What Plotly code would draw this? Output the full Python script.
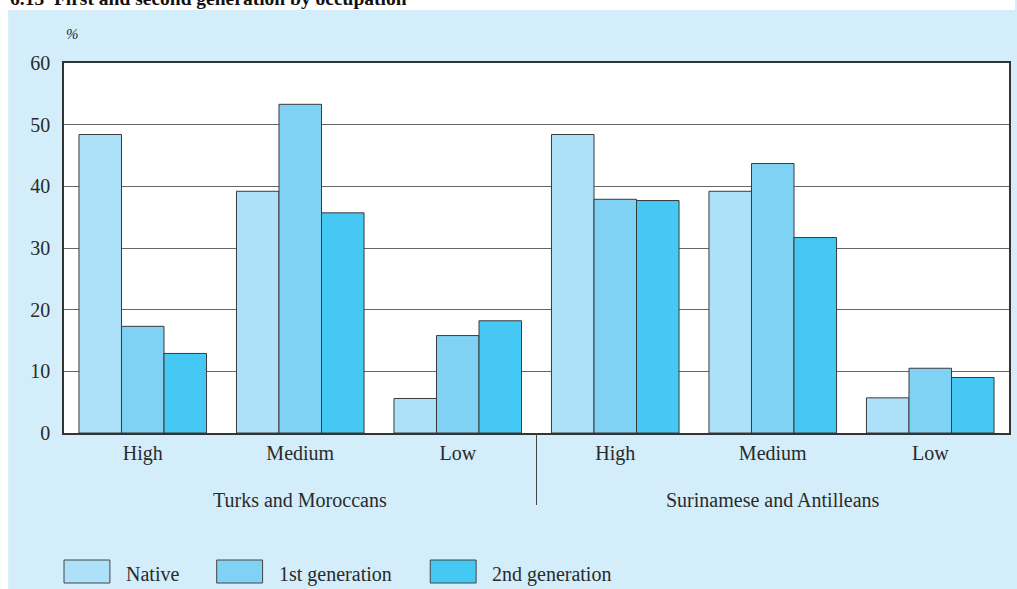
import plotly.graph_objects as go

groups = ["Turks and Moroccans", "Surinamese and Antilleans"]
occupations = ["High", "Medium", "Low", "High", "Medium", "Low"]
native = [48.4, 39.2, 5.6, 48.4, 39.2, 5.7]
first_gen = [17.3, 53.3, 15.8, 37.9, 43.7, 10.5]
second_gen = [12.9, 35.7, 18.2, 37.7, 31.7, 9.0]
series_names = ["Native", "1st generation", "2nd generation"]
series_colors = ["#ade1f9", "#80d2f5", "#45c8f4"]
y_ticks = [0, 10, 20, 30, 40, 50, 60]
positions = list(range(len(occupations)))

W, H = 1017, 589
L, R, T, B = 64, 6, 63, 156
pw, ph = W - L - R, H - T - B

def px(x):
    return (x - L) / pw

def py(y):
    return (H - B - y) / ph

FONT = "Liberation Serif"
TXT = "#2a2a2a"
fig = go.Figure()
for name, vals, col in zip(series_names, [native, first_gen, second_gen], series_colors):
    fig.add_trace(go.Bar(
        x=positions, y=vals, name=name,
        marker=dict(color=col, line=dict(color="#3a3a3a", width=1)),
        showlegend=False,
    ))

shapes = [
    dict(type="rect", xref="paper", yref="paper", x0=px(0), x1=px(W), y0=py(10), y1=py(0),
         fillcolor="white", line=dict(width=0), layer="below"),
    dict(type="rect", xref="paper", yref="paper", x0=px(0), x1=px(8), y0=py(H), y1=py(0),
         fillcolor="white", line=dict(width=0), layer="below"),
    # group divider
    dict(type="line", xref="x", yref="paper", x0=2.5, x1=2.5, y0=0, y1=py(505),
         line=dict(color="#444", width=1)),
]
annotations = [
    dict(text="<b>6.13  First and second generation by occupation</b>", xref="paper", yref="paper",
         x=px(8), y=py(11), xanchor="left", yanchor="bottom", showarrow=False,
         font=dict(family=FONT, size=19.5, color="#111")),
    dict(text="<i>%</i>", xref="paper", yref="paper", x=px(73), y=py(34),
         xanchor="center", yanchor="middle", showarrow=False,
         font=dict(family=FONT, size=15, color=TXT)),
]
for gi, g in enumerate(groups):
    annotations.append(dict(text=g, xref="x", yref="paper", x=1 + 3 * gi, y=py(500),
                            xanchor="center", yanchor="middle", showarrow=False,
                            font=dict(family=FONT, size=20, color=TXT)))
# custom legend
leg_x = [64, 217, 431]
for i, (name, col) in enumerate(zip(series_names, series_colors)):
    x0 = leg_x[i]
    shapes.append(dict(type="rect", xref="paper", yref="paper",
                       x0=px(x0), x1=px(x0 + 46), y0=py(583), y1=py(560),
                       fillcolor=col, line=dict(color="#444", width=1)))
    annotations.append(dict(text=name, xref="paper", yref="paper",
                            x=px(x0 + 60), y=py(574), xanchor="left", yanchor="middle",
                            showarrow=False, font=dict(family=FONT, size=20, color=TXT)))

fig.update_layout(
    width=W, height=H,
    margin=dict(l=L, r=R, t=T, b=B),
    paper_bgcolor="#d3eefa", plot_bgcolor="white",
    barmode="group", bargap=0.19, bargroupgap=0,
    font=dict(family=FONT, size=20, color=TXT),
    shapes=shapes, annotations=annotations,
    xaxis=dict(range=[-0.5, 5.5], tickvals=positions, ticktext=occupations,
               showline=True, linecolor="#333", linewidth=1.5, mirror=True, showgrid=False,
               ticks="outside", ticklen=1, tickcolor="rgba(0,0,0,0)",
               tickfont=dict(family=FONT, size=20, color=TXT), zeroline=False),
    yaxis=dict(range=[0, 60], tickvals=y_ticks, showgrid=True, gridcolor="#666", gridwidth=1.3,
               showline=True, linecolor="#333", linewidth=1.5, mirror=True,
               ticks="outside", ticklen=8, tickcolor="rgba(0,0,0,0)",
               tickfont=dict(family=FONT, size=20, color=TXT), zeroline=False),
)
fig.write_html("out.html", config={"displayModeBar": False},
               post_script="document.body.style.margin='0';document.body.style.overflow='hidden';")
